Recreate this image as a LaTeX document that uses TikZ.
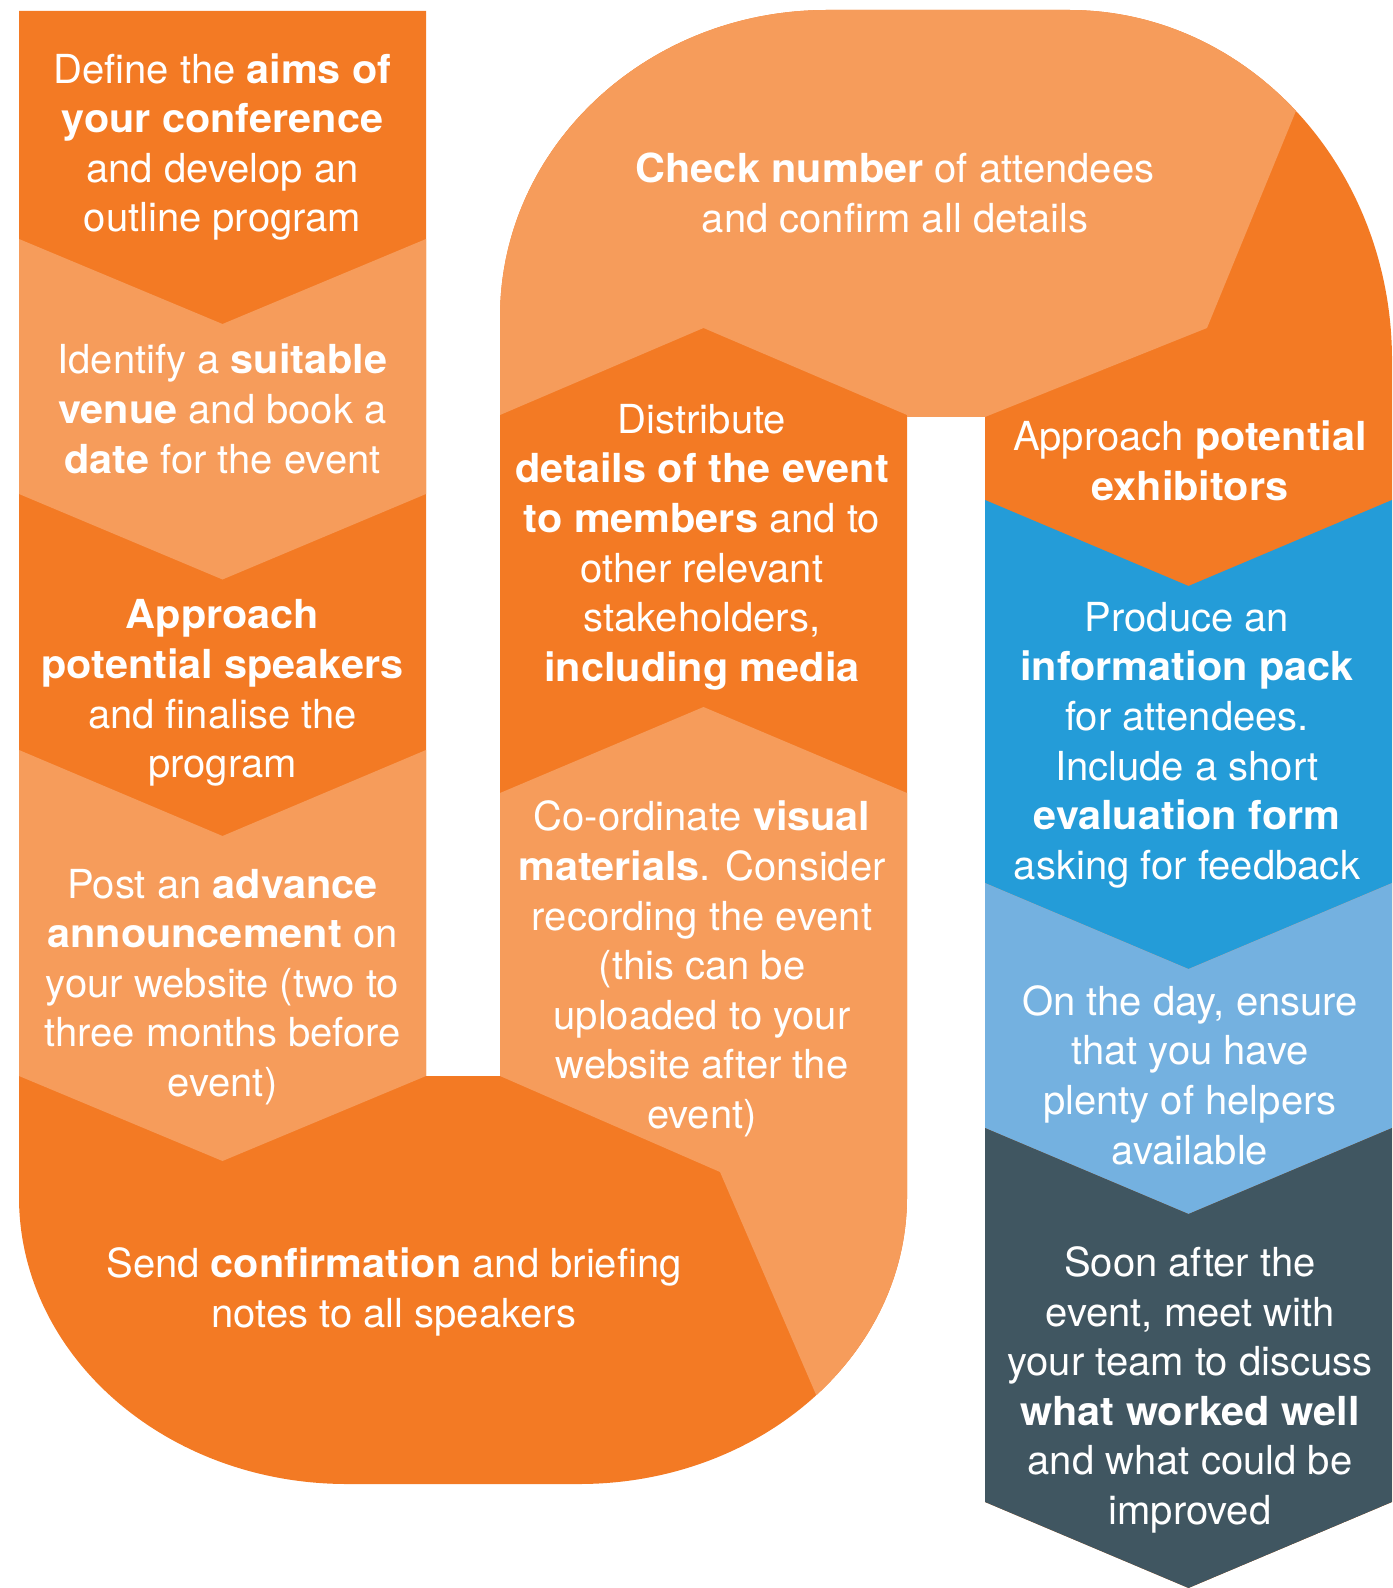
\documentclass[tikz,border=0pt]{standalone}
\usepackage{fontspec}
\setmainfont{TeX Gyre Heros}[BoldFeatures={FakeStretch=1.035}]
\definecolor{orgdark}{HTML}{F37A24}
\definecolor{orglight}{HTML}{F69C5B}
\definecolor{bluemid}{HTML}{249CD8}
\definecolor{bluelight}{HTML}{74B1E0}
\definecolor{slate}{HTML}{405661}
\begin{document}
\begin{tikzpicture}[x=0.5pt,y=-0.5pt,
  % outline of the whole winding ribbon
  ribbon/.style={insert path={
    (19,11) -- (426,11) -- (426,1076) -- (500,1076) -- (500,317)
    .. controls (500,147.4) and (646.4,10) .. (827,10)
    -- (1069,10)
    .. controls (1247.4,10) and (1392,166.7) .. (1392,360)
    -- (1392,1502) -- (1188.5,1588) -- (985,1502) -- (985,417) -- (907,417)
    -- (907,1197)
    .. controls (907,1355.5) and (760.2,1484) .. (579,1484)
    -- (347,1484)
    .. controls (165.8,1484) and (19,1355.5) .. (19,1197) -- cycle}},
  txt/.style={text=white, align=center, inner sep=0pt,
    font=\fontsize{20}{24.8}\selectfont}]
\useasboundingbox (0,0) rectangle (1392,1588);

% base colour of the ribbon
\fill[orgdark, ribbon];

\begin{scope}
  \clip[ribbon];
  % left column, light steps
  \fill[orglight] (19,239) -- (222.5,324) -- (426,239) -- (426,494)
    -- (222.5,579.5) -- (19,494) -- cycle;
  \fill[orglight] (19,750) -- (222.5,836) -- (426,750) -- (426,1076)
    -- (222.5,1161) -- (19,1076) -- cycle;
  % middle column, light step wrapping into the bend
  \fill[orglight] (500,793) -- (703.5,707) -- (907,793) -- (960,793)
    -- (960,1540) -- (878.7,1540) -- (720,1172) -- (500,1076) -- cycle;
  % top arch, light step
  \fill[orglight] (480,-20) -- (1349.6,-20) -- (1207,328) -- (985,417)
    -- (907,417) -- (907,415) -- (703.5,328) -- (500,415) -- (480,415) -- cycle;
  % right column, blue and slate steps
  \fill[bluemid] (985,500) -- (1188.5,586) -- (1392,500) -- (1392,883)
    -- (1188.5,969) -- (985,883) -- cycle;
  \fill[bluelight] (985,883) -- (1188.5,969) -- (1392,883) -- (1392,1128)
    -- (1188.5,1214) -- (985,1128) -- cycle;
  \fill[slate] (985,1128) -- (1188.5,1214) -- (1392,1128) -- (1392,1502)
    -- (1188.5,1588) -- (985,1502) -- cycle;
\end{scope}

% step texts
\node[txt] (aims) at (222.5,147) {Define the \textbf{aims of}\\ \textbf{your conference}\\ and develop an\\ outline program};
\node[txt] (venue) at (222.5,409) {Identify a \textbf{suitable}\\ \textbf{venue} and book a\\ \textbf{date} for the event};
\node[txt] (speakers) at (222.5,693) {\textbf{Approach}\\ \textbf{potential speakers}\\ and finalise the\\ program};
\node[txt] (advance) at (222.5,987) {Post an \textbf{advance}\\ \textbf{announcement} on\\ your website (two to\\ three months before\\ event)};
\node[txt] (confirm) at (394,1292) {Send \textbf{confirmation} and briefing\\ notes to all speakers};
\node[txt] (visual) at (702,969) {Co-ordinate \textbf{visual}\\ \textbf{materials}. Consider\\ recording the event\\ (this can be\\ uploaded to your\\ website after the\\ event)};
\node[txt] (distribute) at (702,547) {Distribute\\ \textbf{details of the event}\\ \textbf{to members} and to\\ other relevant\\ stakeholders,\\ \textbf{including media}};
\node[txt] (check) at (895,193) {\textbf{Check number} of attendees\\ and confirm all details};
\node[txt] (exhibitors) at (1190,461) {Approach \textbf{potential}\\ \textbf{exhibitors}};
\node[txt] (pack) at (1187,745) {Produce an\\ \textbf{information pack}\\ for attendees.\\ Include a short\\ \textbf{evaluation form}\\ asking for feedback};
\node[txt] (helpers) at (1190,1075) {On the day, ensure\\ that you have\\ plenty of helpers\\ available};
\node[txt] (review) at (1190,1390) {Soon after the\\ event, meet with\\ your team to discuss\\ \textbf{what worked well}\\ and what could be\\ improved};
\end{tikzpicture}
\end{document}
